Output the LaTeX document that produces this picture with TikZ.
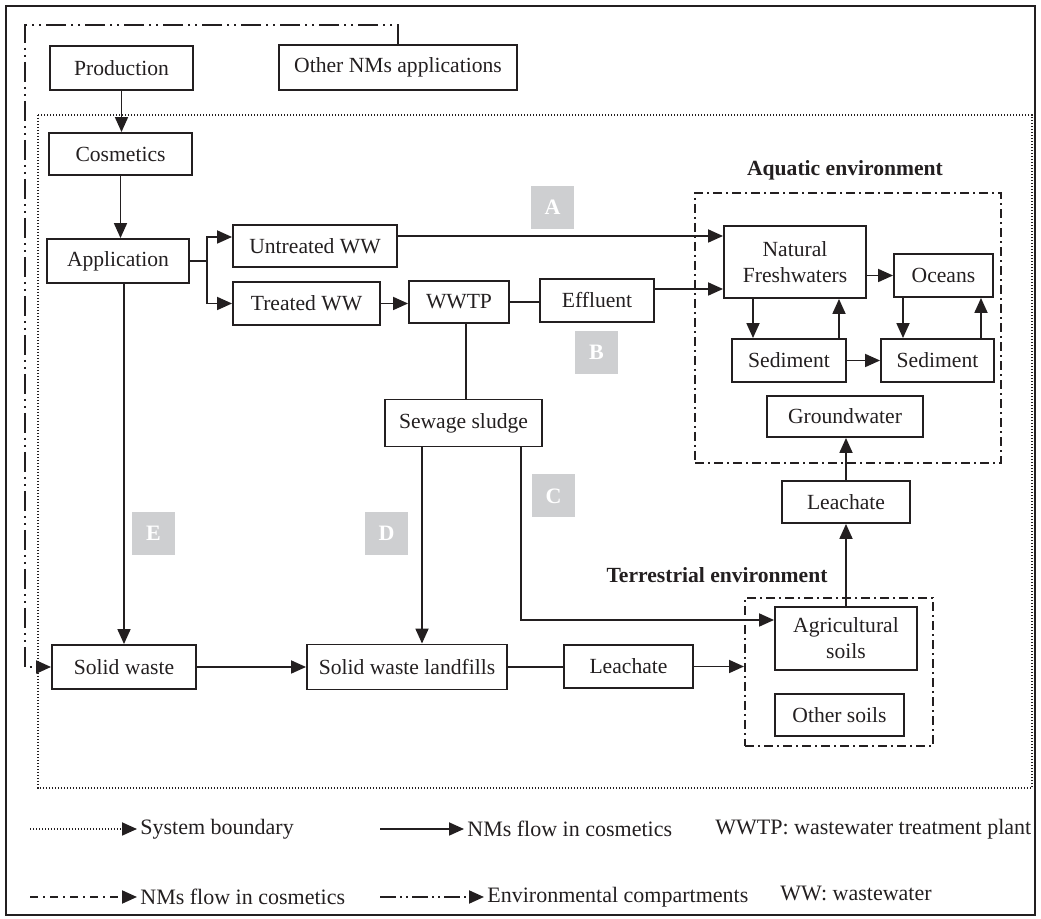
\documentclass[tikz,border=0pt]{standalone}
\usepackage{fontspec}
\setmainfont{Liberation Serif}
\usetikzlibrary{arrows.meta,positioning,calc}
\definecolor{tagGray}{RGB}{206,207,209}
\definecolor{lineBlack}{RGB}{35,31,32}

\begin{document}
\begin{tikzpicture}[x=0.5pt, y=-0.5pt,
    every node/.style={font=\fontsize{10.8}{13}\selectfont, text=lineBlack},
    unit/.style={draw=lineBlack, line width=0.95pt, inner sep=0pt, align=center},
    flow/.style={draw=lineBlack, line width=0.9pt, -{Triangle[length=7.5pt,width=6.5pt]}},
    link/.style={draw=lineBlack, line width=0.9pt},
    compart/.style={draw=lineBlack, line width=1pt, dash pattern=on 4.5pt off 2pt on 1pt off 2pt},
    nmsline/.style={draw=lineBlack, line width=1pt, dash pattern=on 10pt off 2.5pt on 1pt off 2.5pt on 1pt off 2.5pt},
    sysline/.style={draw=lineBlack, line width=0.9pt, dash pattern=on 0.7pt off 0.8pt},
    lettertag/.style={fill=tagGray, minimum size=21.5pt, inner sep=0pt, text=white,
      font=\fontsize{11}{12}\selectfont\bfseries},
    envtitle/.style={font=\fontsize{10.8}{13}\selectfont\bfseries},
    legtext/.style={anchor=west, inner sep=1.5pt, font=\fontsize{11}{13}\selectfont}]
    \useasboundingbox (0,0) rectangle (1041,919);
    % frame and system boundary
    \draw[lineBlack, line width=1.2pt] (6,6) rectangle (1035,915);
    \draw[sysline] (38,115) rectangle (1032,788);
    % environmental compartments
    \node[compart, minimum width=153pt, minimum height=135pt] (aquabox) at (848,328) {};
    \node[envtitle] (aquatitle) at (845,170) {Aquatic environment};
    \node[compart, minimum width=94pt, minimum height=74pt] (terrbox) at (839,672) {};
    \node[envtitle] (terrtitle) at (717,575) {Terrestrial environment};
    % life cycle of the products
    \node[unit, minimum width=71.5pt, minimum height=22pt] (prod) at (121.5,68) {Production};
    \node[unit, minimum width=119pt, minimum height=22.5pt] (other) at (398,67.5) {Other NMs applications};
    \node[unit, minimum width=71.5pt, minimum height=21pt] (cos) at (120.5,154) {Cosmetics};
    \node[unit, minimum width=71pt, minimum height=22pt] (app) at (118,261) {Application};
    \node[unit, minimum width=82pt, minimum height=21pt] (untr) at (315,246) {Untreated WW};
    \node[unit, minimum width=73.5pt, minimum height=21.5pt] (trt) at (306.5,303.5) {Treated WW};
    \node[unit, minimum width=50pt, minimum height=21pt] (wwtp) at (459,302) {WWTP};
    \node[unit, minimum width=57pt, minimum height=21.5pt] (eff) at (597,300.5) {Effluent};
    \node[unit, minimum width=78.5pt, minimum height=23.5pt] (sludge) at (463.5,423) {Sewage sludge};
    \node[unit, minimum width=72pt, minimum height=22pt] (sw) at (124,667) {Solid waste};
    \node[unit, minimum width=100pt, minimum height=22.5pt] (swl) at (407,667) {Solid waste landfills};
    \node[unit, minimum width=64.5pt, minimum height=21.5pt] (leachA) at (628.5,666.5) {Leachate};
    % aquatic side
    \node[unit, minimum width=71pt, minimum height=36pt] (nfw) at (795,262) {Natural\\Freshwaters};
    \node[unit, minimum width=49.5pt, minimum height=21.5pt] (ocean) at (943.5,275.5) {Oceans};
    \node[unit, minimum width=57pt, minimum height=21.5pt] (sed1) at (789,360.5) {Sediment};
    \node[unit, minimum width=56.5pt, minimum height=21.5pt] (sed2) at (937.5,360.5) {Sediment};
    \node[unit, minimum width=78pt, minimum height=20.5pt] (gw) at (845,416.5) {Groundwater};
    \node[unit, minimum width=64pt, minimum height=21pt] (leachB) at (846,502) {Leachate};
    % terrestrial side
    \node[unit, minimum width=71pt, minimum height=31.5pt] (agri) at (846,638.5) {Agricultural\\soils};
    \node[unit, minimum width=64.5pt, minimum height=21pt] (osoil) at (839.5,715) {Other soils};
    % pathways A--E
    \foreach \t/\x/\y in {A/552.5/207.5, B/596.5/352.5, C/553.5/496, D/386.5/533.5, E/153.5/533.5}
      \node[lettertag] (tag\t) at (\x,\y) {\t};
    % NMs flows
    \draw[flow] (prod.south) -- (prod.south |- cos.north);
    \draw[flow] (cos.south) -- (cos.south |- app.north);
    \draw[link] (app.east) -- ++(17,0) coordinate (split);
    \draw[flow] (split) |- (untr.west |- 0,237);
    \draw[flow] (split) |- (trt.west);
    \draw[flow] (untr.east |- 0,236) -- (nfw.west |- 0,236);
    \draw[flow] (trt.east) -- (trt.east -| wwtp.west);
    \draw[link] (wwtp.east |- 0,302) -- (eff.west |- 0,302);
    \draw[flow] (eff.east |- 0,289) -- (nfw.west |- 0,289);
    \draw[link] (wwtp.south -| 466,0) -- (sludge.north -| 466,0);
    \draw[flow] (sludge.south -| 422,0) -- (swl.north -| 422,0);
    \draw[flow] (sludge.south -| 521,0) |- (agri.west |- 0,620);
    \draw[flow] (app.south -| 124,0) -- (sw.north -| 124,0);
    \draw[flow] (sw.east) -- (sw.east -| swl.west);
    \draw[link] (swl.east) -- (swl.east -| leachA.west);
    \draw[flow] (leachA.east) -- (leachA.east -| terrbox.west);
    \draw[flow] (agri.north) -- (leachB.south);
    \draw[flow] (leachB.north) -- (leachB.north |- gw.south);
    \draw[flow] (nfw.east |- ocean.west) -- (ocean.west);
    \draw[flow] (nfw.south -| 753,0) -- (sed1.north -| 753,0);
    \draw[flow] (sed1.north -| 839,0) -- (nfw.south -| 839,0);
    \draw[flow] (ocean.south -| 903,0) -- (sed2.north -| 903,0);
    \draw[flow] (sed2.north -| 981,0) -- (ocean.south -| 981,0);
    \draw[flow] (sed1.east) -- (sed2.west);
    % other applications feed solid waste
    \draw[nmsline, -{Triangle[length=7.5pt,width=6.5pt]}] (other.north) -- (other.north |- 0,25) -- (25,25) |- (sw.west);
    % legend
    \coordinate (lgsysstart) at (30,829);
    \node[legtext] (lgsys) at (137,829) {System boundary};
    \draw[sysline, -{Triangle[length=7.5pt,width=6.5pt]}] (lgsysstart) -- (lgsys.west);
    \coordinate (lgflowstart) at (380,829);
    \node[legtext] (lgflow) at (464,829) {NMs flow in cosmetics};
    \draw[flow] (lgflowstart) -- (lgflow.west);
    \node[legtext] (lgwwtp) at (712,829) {WWTP: wastewater treatment plant};
    \coordinate (lgnmsstart) at (30,897);
    \node[legtext] (lgnms) at (137,897) {NMs flow in cosmetics};
    \draw[draw=lineBlack, line width=1pt, dash pattern=on 4pt off 2.5pt on 1pt off 2.5pt,
      -{Triangle[length=7.5pt,width=6.5pt]}] (lgnmsstart) -- (lgnms.west);
    \coordinate (lgenvstart) at (380,897);
    \node[legtext] (lgenv) at (484,897) {Environmental compartments};
    \draw[draw=lineBlack, line width=1pt, dash pattern=on 8pt off 2pt on 1pt off 2pt on 1pt off 2pt,
      -{Triangle[length=7.5pt,width=6.5pt]}] (lgenvstart) -- (lgenv.west);
    \node[legtext] (lgww) at (777,893) {WW: wastewater};
\end{tikzpicture}
\end{document}
